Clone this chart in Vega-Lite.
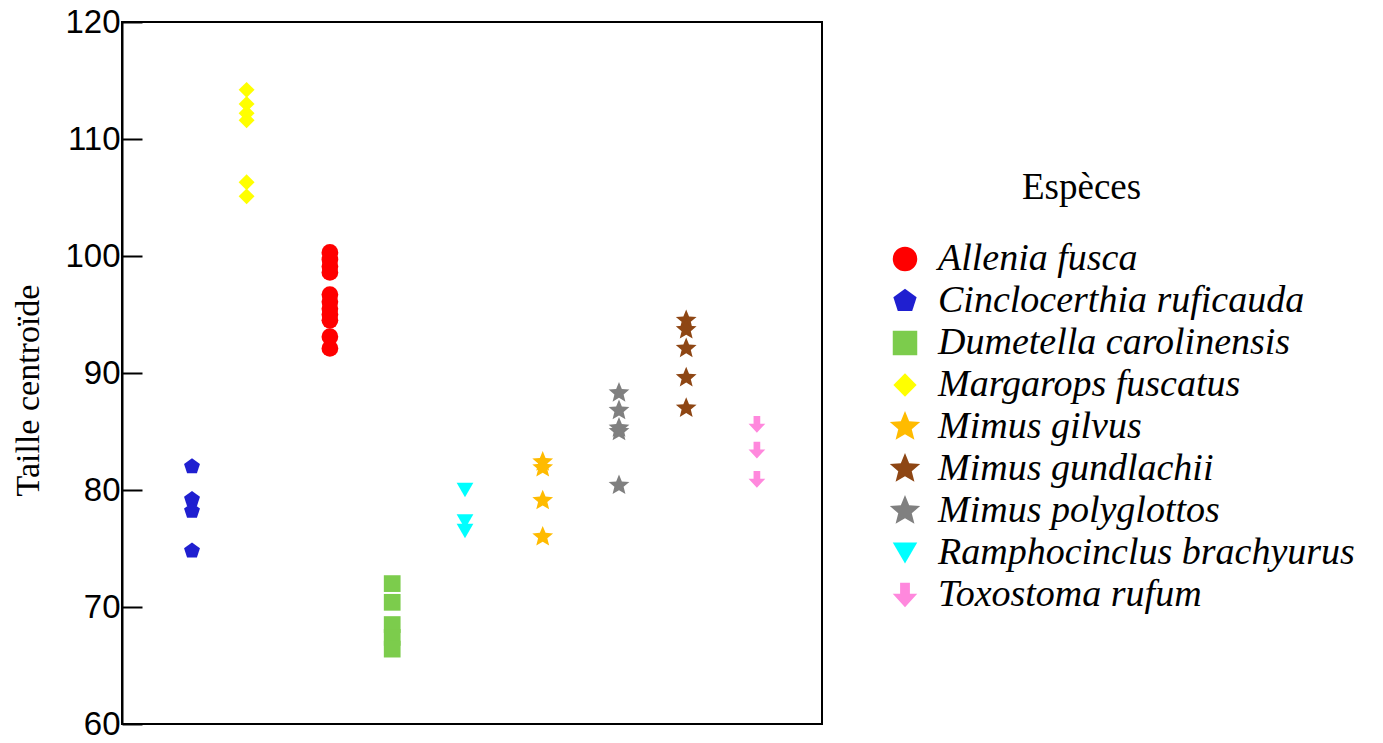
{
  "$schema": "https://vega.github.io/schema/vega-lite/v6.json",
  "width": 700,
  "height": 702,
  "autosize": {"type": "none"},
  "padding": {"left": 122, "top": 22, "right": 561, "bottom": 19},
  "background": "white",
  "title": {"text": "Espèces", "anchor": "start", "frame": "group", "orient": "top", "offset": 0, "dx": 900, "dy": 230, "font": "Liberation Serif", "fontSize": 37, "fontWeight": "normal", "color": "black", "baseline": "alphabetic"},
  "config": {
    "view": {"stroke": "black", "strokeWidth": 2},
    "legend": {
      "orient": "none", "legendX": 764, "legendY": 218, "padding": 0,
      "labelFont": "Liberation Serif", "labelFontStyle": "italic", "labelFontSize": 38, "labelColor": "black", "labelLimit": 600,
      "labelOffset": 14, "symbolSize": 600, "rowPadding": 4, "symbolStrokeWidth": 0, "symbolOpacity": 1
    }
  },
  "data": {"values": [
    {"espece": "Cinclocerthia ruficauda", "x": 1.0, "taille": 82.0},
    {"espece": "Cinclocerthia ruficauda", "x": 1.0, "taille": 79.2},
    {"espece": "Cinclocerthia ruficauda", "x": 1.0, "taille": 78.2},
    {"espece": "Cinclocerthia ruficauda", "x": 1.0, "taille": 74.8},
    {"espece": "Margarops fuscatus", "x": 1.78, "taille": 114.2},
    {"espece": "Margarops fuscatus", "x": 1.78, "taille": 113.0},
    {"espece": "Margarops fuscatus", "x": 1.78, "taille": 112.2},
    {"espece": "Margarops fuscatus", "x": 1.78, "taille": 111.6},
    {"espece": "Margarops fuscatus", "x": 1.78, "taille": 106.3},
    {"espece": "Margarops fuscatus", "x": 1.78, "taille": 105.1},
    {"espece": "Allenia fusca", "x": 2.97, "taille": 100.3},
    {"espece": "Allenia fusca", "x": 2.97, "taille": 99.7},
    {"espece": "Allenia fusca", "x": 2.97, "taille": 99.1},
    {"espece": "Allenia fusca", "x": 2.97, "taille": 98.6},
    {"espece": "Allenia fusca", "x": 2.97, "taille": 96.7},
    {"espece": "Allenia fusca", "x": 2.97, "taille": 96.1},
    {"espece": "Allenia fusca", "x": 2.97, "taille": 95.5},
    {"espece": "Allenia fusca", "x": 2.97, "taille": 95.0},
    {"espece": "Allenia fusca", "x": 2.97, "taille": 94.5},
    {"espece": "Allenia fusca", "x": 2.97, "taille": 93.1},
    {"espece": "Allenia fusca", "x": 2.97, "taille": 92.1},
    {"espece": "Dumetella carolinensis", "x": 3.86, "taille": 72.0},
    {"espece": "Dumetella carolinensis", "x": 3.86, "taille": 70.4},
    {"espece": "Dumetella carolinensis", "x": 3.86, "taille": 68.5},
    {"espece": "Dumetella carolinensis", "x": 3.86, "taille": 67.4},
    {"espece": "Dumetella carolinensis", "x": 3.86, "taille": 66.4},
    {"espece": "Ramphocinclus brachyurus", "x": 4.9, "taille": 80.0},
    {"espece": "Ramphocinclus brachyurus", "x": 4.9, "taille": 77.3},
    {"espece": "Ramphocinclus brachyurus", "x": 4.9, "taille": 76.5},
    {"espece": "Mimus gilvus", "x": 6.01, "taille": 82.4},
    {"espece": "Mimus gilvus", "x": 6.01, "taille": 81.9},
    {"espece": "Mimus gilvus", "x": 6.01, "taille": 79.1},
    {"espece": "Mimus gilvus", "x": 6.01, "taille": 76.0},
    {"espece": "Mimus polyglottos", "x": 7.1, "taille": 88.3},
    {"espece": "Mimus polyglottos", "x": 7.1, "taille": 86.8},
    {"espece": "Mimus polyglottos", "x": 7.1, "taille": 85.3},
    {"espece": "Mimus polyglottos", "x": 7.1, "taille": 85.0},
    {"espece": "Mimus polyglottos", "x": 7.1, "taille": 80.4},
    {"espece": "Mimus gundlachii", "x": 8.06, "taille": 94.5},
    {"espece": "Mimus gundlachii", "x": 8.06, "taille": 93.7},
    {"espece": "Mimus gundlachii", "x": 8.06, "taille": 92.1},
    {"espece": "Mimus gundlachii", "x": 8.06, "taille": 89.6},
    {"espece": "Mimus gundlachii", "x": 8.06, "taille": 87.0},
    {"espece": "Toxostoma rufum", "x": 9.07, "taille": 85.6},
    {"espece": "Toxostoma rufum", "x": 9.07, "taille": 83.4},
    {"espece": "Toxostoma rufum", "x": 9.07, "taille": 80.9}
  ]},
  "mark": {"type": "point", "filled": true, "opacity": 1, "size": 280, "strokeWidth": 0},
  "encoding": {
    "x": {"field": "x", "type": "quantitative", "scale": {"domain": [0, 10], "nice": false, "zero": false}, "axis": null},
    "y": {"field": "taille", "type": "quantitative",
      "scale": {"domain": [60, 120], "nice": false, "zero": false},
      "axis": {"title": "Taille centroïde", "values": [60, 70, 80, 90, 100, 110, 120],
        "grid": false, "domainColor": "black", "domainWidth": 2,
        "tickColor": "black", "tickWidth": 2, "tickSize": -20, "labelPadding": 22,
        "labelFont": "Liberation Sans", "labelFontSize": 33, "labelColor": "black", "labelBaseline": "middle", "labelFlush": false, "labelOverlap": false,
        "titleFont": "Liberation Serif", "titleFontSize": 34, "titleFontWeight": "normal", "titleColor": "black",
        "titleX": -94, "titleY": 368, "titleAngle": -90, "titleBaseline": "middle", "titleAlign": "center"}},
    "color": {"field": "espece", "type": "nominal", "title": null,
      "scale": {
        "domain": ["Allenia fusca", "Cinclocerthia ruficauda", "Dumetella carolinensis", "Margarops fuscatus", "Mimus gilvus", "Mimus gundlachii", "Mimus polyglottos", "Ramphocinclus brachyurus", "Toxostoma rufum"],
        "range": ["#ff0000", "#1f1fd0", "#7ccc4c", "#ffff00", "#ffbb00", "#8e4614", "#808080", "#00ffff", "#ff88dd"]}},
    "shape": {"field": "espece", "type": "nominal", "title": null,
      "scale": {
        "domain": ["Allenia fusca", "Cinclocerthia ruficauda", "Dumetella carolinensis", "Margarops fuscatus", "Mimus gilvus", "Mimus gundlachii", "Mimus polyglottos", "Ramphocinclus brachyurus", "Toxostoma rufum"],
        "range": [
          "circle",
          "M0,-1L0.951,-0.309L0.588,0.809L-0.588,0.809L-0.951,-0.309Z",
          "square",
          "M0,-0.95L0.95,0L0,0.95L-0.95,0Z",
          "M0,-1.3L0.34,-0.47L1.24,-0.4L0.55,0.18L0.77,1.05L0,0.59L-0.77,1.05L-0.55,0.18L-1.24,-0.4L-0.34,-0.47Z",
          "M0,-1.3L0.34,-0.47L1.24,-0.4L0.55,0.18L0.77,1.05L0,0.59L-0.77,1.05L-0.55,0.18L-1.24,-0.4L-0.34,-0.47Z",
          "M0,-1.3L0.34,-0.47L1.24,-0.4L0.55,0.18L0.77,1.05L0,0.59L-0.77,1.05L-0.55,0.18L-1.24,-0.4L-0.34,-0.47Z",
          "triangle-down",
          "M-0.4,-1L0.4,-1L0.4,-0.1L1,-0.1L0,1L-1,-0.1L-0.4,-0.1Z"
        ]}}
  }
}
